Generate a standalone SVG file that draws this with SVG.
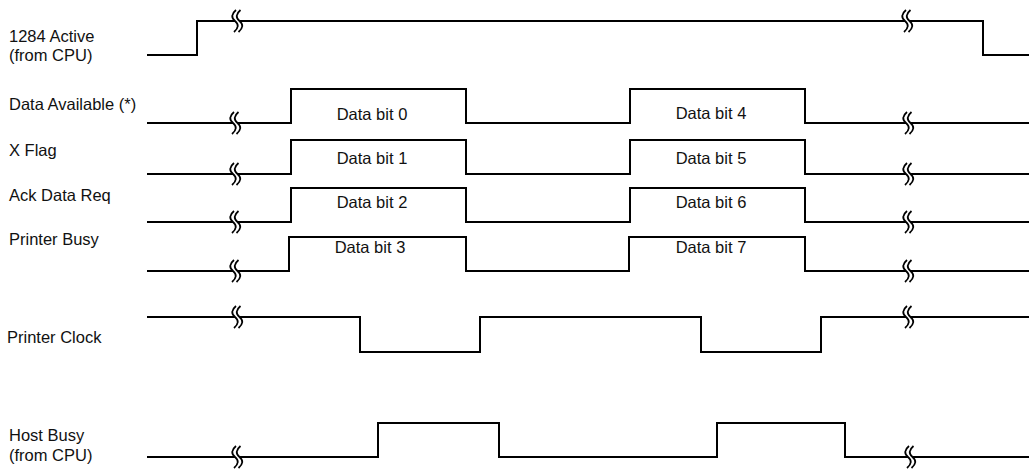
<svg xmlns="http://www.w3.org/2000/svg" width="1029" height="473" viewBox="0 0 1029 473">
<style>
.sig{fill:none;stroke:#000;stroke-width:2;stroke-linejoin:miter}
.brk{fill:none;stroke:#000;stroke-width:1.8}
.lbl{font-family:"Liberation Sans",Arial,sans-serif;font-size:16.5px;fill:#111}
.bit{font-family:"Liberation Sans",Arial,sans-serif;font-size:16.5px;fill:#111;text-anchor:middle}
</style>
<defs>
<path id="brk" class="brk" d="M-1,-11 Q-8,-5 -2,0 Q4,5 -3,11 M3.5,-11 Q-3.5,-5 2.5,0 Q8.5,5 1.5,11"/>
</defs>
<rect width="1029" height="473" fill="#fff"/>

<g id="active1284">
<text class="lbl" x="9" y="42">1284 Active</text>
<text class="lbl" x="9" y="61">(from CPU)</text>
<polyline class="sig" points="147,55 197,55 197,21 235,21"/>
<polyline class="sig" points="239.5,21 905,21"/>
<polyline class="sig" points="909.5,21 983,21 983,55 1029,55"/>
<use href="#brk" x="237" y="21"/>
<use href="#brk" x="907" y="21"/>
</g>

<g id="dataAvailable">
<text class="lbl" x="9" y="110">Data Available (*)</text>
<polyline class="sig" points="147,123 233,123"/>
<polyline class="sig" points="237.5,123 291,123 291,89 466,89 466,123 630,123 630,89 805,89 805,123 906,123"/>
<polyline class="sig" points="910.5,123 1029,123"/>
<use href="#brk" x="235" y="123"/>
<use href="#brk" x="908" y="123"/>
<text class="bit" x="372" y="120">Data bit 0</text>
<text class="bit" x="711" y="119">Data bit 4</text>
</g>

<g id="xFlag">
<text class="lbl" x="9" y="156">X Flag</text>
<polyline class="sig" points="147,174 233,174"/>
<polyline class="sig" points="237.5,174 291,174 291,140 466,140 466,174 630,174 630,140 805,140 805,174 906,174"/>
<polyline class="sig" points="910.5,174 1029,174"/>
<use href="#brk" x="235" y="174"/>
<use href="#brk" x="908" y="174"/>
<text class="bit" x="372" y="164">Data bit 1</text>
<text class="bit" x="711" y="164">Data bit 5</text>
</g>

<g id="ackDataReq">
<text class="lbl" x="9" y="201">Ack Data Req</text>
<polyline class="sig" points="147,222 233,222"/>
<polyline class="sig" points="237.5,222 291,222 291,188 466,188 466,222 630,222 630,188 805,188 805,222 906,222"/>
<polyline class="sig" points="910.5,222 1029,222"/>
<use href="#brk" x="235" y="222"/>
<use href="#brk" x="908" y="222"/>
<text class="bit" x="372" y="208">Data bit 2</text>
<text class="bit" x="711" y="208">Data bit 6</text>
</g>

<g id="printerBusy">
<text class="lbl" x="9" y="245">Printer Busy</text>
<polyline class="sig" points="147,271 233,271"/>
<polyline class="sig" points="237.5,271 289,271 289,237 466,237 466,271 629,271 629,237 805,237 805,271 906,271"/>
<polyline class="sig" points="910.5,271 1029,271"/>
<use href="#brk" x="235" y="271"/>
<use href="#brk" x="908" y="271"/>
<text class="bit" x="370" y="253">Data bit 3</text>
<text class="bit" x="711" y="253">Data bit 7</text>
</g>

<g id="printerClock">
<text class="lbl" x="7" y="343">Printer Clock</text>
<polyline class="sig" points="147,317 235,317"/>
<polyline class="sig" points="239.5,317 360,317 360,352 480,352 480,317 701,317 701,352 821,352 821,317 906,317"/>
<polyline class="sig" points="910.5,317 1029,317"/>
<use href="#brk" x="237" y="317"/>
<use href="#brk" x="908" y="317"/>
</g>

<g id="hostBusy">
<text class="lbl" x="9" y="441">Host Busy</text>
<text class="lbl" x="9" y="461">(from CPU)</text>
<polyline class="sig" points="147,457 235,457"/>
<polyline class="sig" points="239.5,457 378,457 378,423 499,423 499,457 717,457 717,423 845,423 845,457 908,457"/>
<polyline class="sig" points="912.5,457 1029,457"/>
<use href="#brk" x="237" y="457"/>
<use href="#brk" x="910" y="457"/>
</g>
</svg>
